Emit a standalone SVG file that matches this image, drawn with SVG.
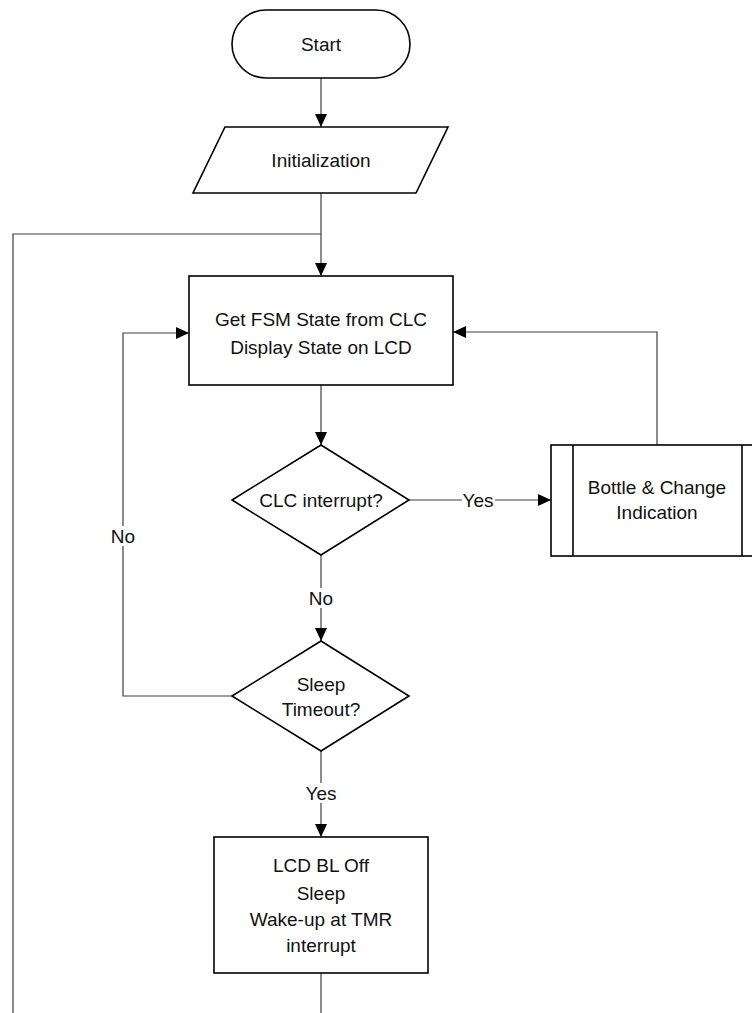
<svg xmlns="http://www.w3.org/2000/svg" width="752" height="1013" viewBox="0 0 752 1013">
  <style>
    .shape { fill: #ffffff; stroke: #000000; stroke-width: 1.6; }
    .conn { fill: none; stroke: #404040; stroke-width: 1.2; }
    .lbl { font-family: "Liberation Sans", Arial, sans-serif; font-size: 19px; fill: #111111; text-anchor: middle; }
    .bg { fill: #ffffff; stroke: none; }
  </style>
  <defs>
    <marker id="arrow" markerUnits="userSpaceOnUse" markerWidth="13" markerHeight="12" refX="13" refY="6" orient="auto">
      <path d="M0,0 L13,6 L0,12 z" fill="#000000"/>
    </marker>
  </defs>
  <rect width="752" height="1013" fill="#ffffff"/>

  <g id="connectors">
    <path class="conn" d="M321,78 V127" marker-end="url(#arrow)"/>
    <path class="conn" d="M321,193 V276" marker-end="url(#arrow)"/>
    <path class="conn" d="M13,1013 V234 H321"/>
    <path class="conn" d="M321,973 V1013"/>
    <path class="conn" d="M321,385 V445" marker-end="url(#arrow)"/>
    <path class="conn" d="M409,500 H551" marker-end="url(#arrow)"/>
    <path class="conn" d="M657,445 V332 H453" marker-end="url(#arrow)"/>
    <path class="conn" d="M321,555 V641" marker-end="url(#arrow)"/>
    <path class="conn" d="M232,696 H123 V333 H189" marker-end="url(#arrow)"/>
    <path class="conn" d="M321,751 V837" marker-end="url(#arrow)"/>
    <!-- connector labels -->
    <rect class="bg" x="462" y="490" width="33" height="20"/>
    <text class="lbl" x="478" y="507">Yes</text>
    <rect class="bg" x="307" y="588" width="28" height="20"/>
    <text class="lbl" x="321" y="605">No</text>
    <rect class="bg" x="109" y="526" width="28" height="20"/>
    <text class="lbl" x="123" y="543">No</text>
    <rect class="bg" x="305" y="783" width="33" height="20"/>
    <text class="lbl" x="321" y="800">Yes</text>
  </g>

  <g id="start">
    <rect class="shape" x="232" y="10" width="178" height="68" rx="34" ry="34"/>
    <text class="lbl" x="321" y="51">Start</text>
  </g>

  <g id="init">
    <polygon class="shape" points="225,127 448,127 416,193 193,193"/>
    <text class="lbl" x="321" y="167">Initialization</text>
  </g>

  <g id="get-state">
    <rect class="shape" x="189" y="276" width="264" height="109"/>
    <text class="lbl" x="321" y="326">Get FSM State from CLC</text>
    <text class="lbl" x="321" y="354">Display State on LCD</text>
  </g>

  <g id="clc-decision">
    <polygon class="shape" points="321,445 409,500 321,555 232,500"/>
    <text class="lbl" x="321" y="507">CLC interrupt?</text>
  </g>

  <g id="bottle-change">
    <rect class="shape" x="551" y="445" width="213" height="111"/>
    <line class="shape" x1="573" y1="445" x2="573" y2="556"/>
    <line class="shape" x1="742" y1="445" x2="742" y2="556"/>
    <text class="lbl" x="657" y="494">Bottle &amp; Change</text>
    <text class="lbl" x="657" y="519">Indication</text>
  </g>

  <g id="sleep-decision">
    <polygon class="shape" points="321,641 409,696 321,751 232,696"/>
    <text class="lbl" x="321" y="691">Sleep</text>
    <text class="lbl" x="321" y="716">Timeout?</text>
  </g>

  <g id="sleep-box">
    <rect class="shape" x="214" y="837" width="214" height="136"/>
    <text class="lbl" x="321" y="872">LCD BL Off</text>
    <text class="lbl" x="321" y="900">Sleep</text>
    <text class="lbl" x="321" y="926">Wake-up at TMR</text>
    <text class="lbl" x="321" y="952">interrupt</text>
  </g>
</svg>
